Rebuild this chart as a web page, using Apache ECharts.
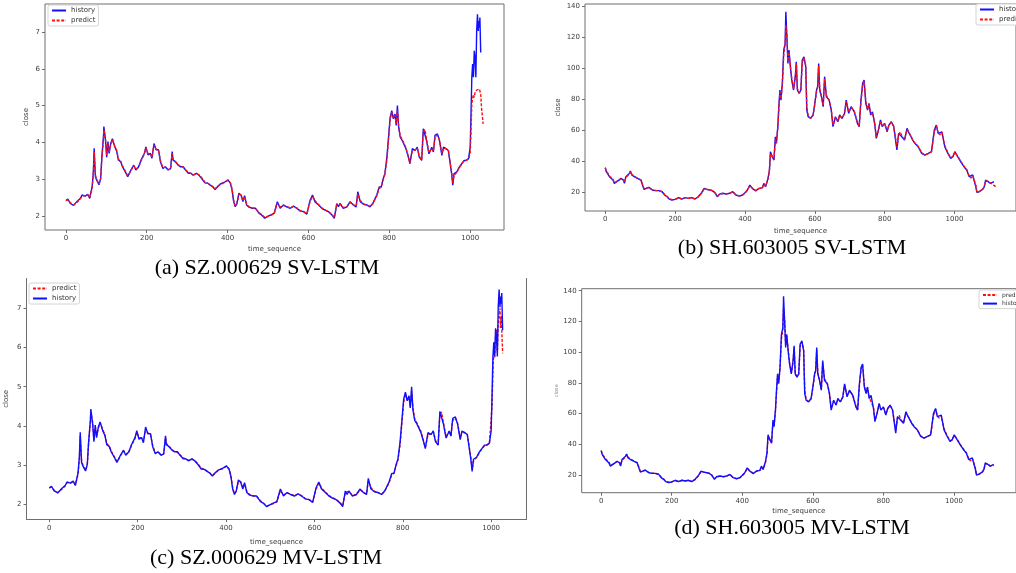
<!DOCTYPE html>
<html>
<head>
<meta charset="utf-8">
<script src="https://cdn.jsdelivr.net/npm/echarts@6/dist/echarts.min.js"></script>
<style>
  html, body { margin: 0; padding: 0; background: #fff; }
  #main { width: 1016px; height: 573px; }
</style>
</head>
<body>
<div id="main"></div>
<script>
// SZ.000629 time steps and closing prices (panels a, c)
const tA = [0,5,11,19,27,36,40,48,54,59,65,68,70,73,76,82,86,89,93,94,
  98,101,104,107,111,115,121,126,130,136,140,147,153,157,161,168,173,180,186,194,
  198,203,209,213,218,223,229,234,240,246,253,259,263,265,271,278,283,290,296,303,
  309,315,323,329,336,344,351,357,363,369,376,382,388,394,401,407,411,415,419,423,
  428,433,438,442,447,453,461,469,478,484,492,498,507,515,523,530,538,546,555,563,
  571,579,588,596,600,604,610,616,625,633,641,649,658,664,670,674,678,686,695,703,
  711,718,722,728,736,744,752,759,765,769,775,780,785,789,794,798,802,806,810,814,
  817,820,823,827,832,836,841,847,851,857,864,869,874,880,884,888,892,898,905,909,
  913,919,924,930,934,940,946,950,954,957,960,967,973,979,985,990,996,1000,1002,1004,
  1006,1008,1010,1012,1014,1016,1018,1020,1021,1023,1024,1026,1028,1032];
const histA = [2.42,2.46,2.34,2.29,2.39,2.48,2.57,2.54,2.59,2.48,2.8,3.2,3.84,3.07,2.98,2.85,3.02,3.6,4.15,4.43,
  4.06,3.6,4.02,3.7,3.97,4.1,3.88,3.75,3.52,3.47,3.34,3.2,3.07,3.16,3.25,3.38,3.25,3.34,3.52,3.7,
  3.88,3.66,3.7,3.57,3.97,3.8,3.8,3.47,3.29,3.34,3.25,3.29,3.75,3.52,3.47,3.38,3.34,3.34,3.25,3.16,
  3.16,3.11,3.16,3.11,3.02,2.9,2.89,2.84,2.8,2.72,2.81,2.87,2.9,2.93,2.98,2.89,2.71,2.39,2.25,2.34,
  2.62,2.57,2.39,2.55,2.3,2.24,2.21,2.21,2.07,2.03,1.94,1.98,2.03,2.07,2.39,2.21,2.3,2.25,2.21,2.27,
  2.21,2.14,2.12,2.05,2.07,2.43,2.57,2.39,2.3,2.21,2.16,2.12,2.03,1.94,2.34,2.25,2.34,2.21,2.25,2.39,
  2.3,2.25,2.66,2.39,2.32,2.3,2.25,2.34,2.48,2.57,2.79,2.79,3.02,3.15,3.6,4.14,4.68,4.86,4.64,4.77,
  4.46,5.0,4.41,4.14,4.05,4.1,3.83,3.6,3.42,3.83,3.78,3.87,3.6,3.51,4.37,4.37,4.05,3.69,3.87,3.74,
  4.19,4.23,4.05,3.65,3.87,3.83,3.78,3.74,3.15,2.84,3.15,3.2,3.33,3.42,3.51,3.51,3.56,3.87,4.77,5.77,
  6.13,5.77,6.49,6.3,5.77,7.03,7.48,7.03,7.3,7.12,7.39,6.44];
// SV-LSTM prediction (panel a)
const predA = [2.42,2.44,2.36,2.3,2.37,2.47,2.55,2.55,2.58,2.5,2.76,3.15,3.74,3.12,3.0,2.87,3.0,3.55,4.1,4.34,
  4.1,3.65,3.98,3.74,3.94,4.08,3.9,3.77,3.55,3.48,3.36,3.22,3.09,3.15,3.24,3.36,3.27,3.33,3.5,3.68,
  3.84,3.7,3.69,3.6,3.93,3.82,3.79,3.5,3.31,3.33,3.26,3.28,3.7,3.55,3.48,3.39,3.35,3.33,3.26,3.18,
  3.16,3.12,3.15,3.12,3.04,2.92,2.89,2.85,2.8,2.74,2.8,2.86,2.89,2.92,2.97,2.9,2.74,2.42,2.27,2.33,
  2.58,2.58,2.42,2.53,2.33,2.25,2.22,2.21,2.09,2.04,1.96,1.98,2.02,2.06,2.35,2.24,2.29,2.26,2.22,2.26,
  2.22,2.15,2.12,2.06,2.07,2.39,2.54,2.42,2.31,2.22,2.17,2.12,2.05,1.96,2.3,2.27,2.33,2.23,2.25,2.37,
  2.31,2.26,2.6,2.42,2.33,2.3,2.26,2.33,2.46,2.55,2.75,2.79,2.99,3.13,3.53,4.07,4.6,4.82,4.66,4.74,
  4.5,4.88,4.46,4.18,4.07,4.09,3.86,3.62,3.45,3.78,3.79,3.85,3.63,3.52,4.28,4.35,4.08,3.72,3.84,3.76,
  4.14,4.2,4.07,3.69,3.84,3.83,3.78,3.74,3.2,2.9,3.1,3.19,3.31,3.41,3.5,3.51,3.55,3.7,4.3,5.05,
  5.2,5.3,5.22,5.35,5.38,5.42,5.45,5.47,5.47,5.45,5.4,5.3,4.95,4.5];
// MV-LSTM prediction end section (panel c), from t = 1000
const predTailC = [3.6,4.5,5.4,5.9,5.75,6.3,6.45,5.9,6.6,6.85,7.0,6.5,6.8,6.45,5.85];

// SH.603005 time steps and closing prices (panels b, d)
const tB = [0,3,8,12,17,22,26,31,39,45,52,55,59,64,69,72,76,83,92,102,
  106,111,116,125,135,144,153,163,170,177,183,191,200,210,219,229,238,247,257,262,
  266,276,283,290,299,306,313,321,327,337,346,356,365,374,384,393,400,407,414,421,
  431,440,450,454,459,466,470,473,478,483,487,490,494,497,500,503,507,511,515,517,
  520,523,526,530,534,539,544,547,550,555,560,564,569,574,577,581,588,595,600,605,
  608,611,614,619,624,628,633,641,647,652,659,666,671,678,685,690,697,704,713,722,
  727,732,737,741,746,751,755,760,765,772,776,782,788,793,800,807,812,819,826,831,
  835,840,845,849,857,864,868,873,880,887,896,906,915,925,934,942,948,953,958,964,
  972,981,989,995,1001,1009,1018,1027,1035,1042,1047,1052,1056,1061,1064,1070,1080,1085,1089,1096,
  1103,1108,1113,1120];
const histB = [35.9,33.3,32.2,30.1,30.5,27.9,25.8,26.9,27.9,29,27.9,25.8,30.1,29,32.2,33.7,31.2,30.1,29,27.9,
  26.9,21.9,22.6,23.2,21.5,21.1,21.1,20.4,18.3,17.2,15.7,15.1,15.5,16.6,15.7,16.6,16.1,16.6,15.7,15.1,
  17.2,19.8,22.6,21.9,21.5,21.1,20,17.2,18.9,19.4,18.9,19.4,20.4,18.3,17.6,18.3,19.8,21.5,24.7,22.6,
  20.9,22.6,23,25.8,23.6,29,34.4,46.2,43,40.8,55.8,51.5,62.3,75.2,85.9,79.4,90.2,111.6,115.9,136.3,
  120.2,103,111.6,100.9,92.3,85.9,94.5,104.1,85.9,83.7,85.9,105.2,107.3,100.9,73,68.7,67.6,69.8,77.3,85.9,
  88,103,85.9,81.6,75.2,94.5,81.6,79.4,73,62.3,68.7,65.5,69.8,67.6,70.9,79.4,70.9,75.2,71.9,64.4,
  62.3,79.4,90.2,92.3,77.3,73,77.3,69.8,71.9,63.3,54.8,60.1,66.6,62.3,64.4,59,63.3,65.5,62.3,63.3,
  47.3,58,59,55.8,53.7,61.2,59,56.9,53.7,51.5,49.4,45.1,44,45.1,46.2,60.1,63.3,58,56.9,59,
  49.4,45.1,41.9,43,46.2,43,39.7,36.5,34.4,30.1,29,31.2,32.2,23.6,20,20.4,21.9,23.6,27.9,26.9,
  25.8,24.7,26.9];
// SV-LSTM prediction (panel b)
const predB = [35.9,33.8,32.6,30.6,30.3,28.4,26.3,26.6,27.7,28.8,28.1,26.4,29.6,29.2,31.8,33.4,31.6,30.4,29.2,28.1,
  27.1,22.5,22.5,23.1,21.7,21.2,21.1,20.5,18.6,17.4,16,15.3,15.5,16.4,15.9,16.5,16.2,16.5,15.9,15.3,
  17,19.5,22.3,22,21.6,21.2,20.2,17.6,18.7,19.3,19,19.3,20.3,18.5,17.7,18.2,19.6,21.3,24.3,22.8,
  21.2,22.4,23,25.4,23.9,28.4,33.6,44.8,43.4,41.2,54.2,52.1,61.2,73.8,84.6,80.2,89.1,108.8,115.2,128,
  121.4,104.6,110.4,101.6,93.1,86.5,93.6,103.2,87,84,85.7,103.8,106.6,101.6,75.4,69.3,67.8,69.5,76.6,85,
  87.6,101.4,86.8,82,75.9,93.2,82.6,79.6,73.7,63.4,68.2,65.8,69.4,67.8,70.7,78.6,71.6,74.8,72.2,65.1,
  62.6,78,89.2,91.8,78.6,73.5,76.9,70.4,71.7,63.9,55.8,59.6,66,62.7,64.2,59.5,63,65.2,62.6,63.2,
  48.9,57.1,58.9,56.1,53.9,60.5,59.2,57.1,54,51.7,49.6,45.5,44.1,45,46.1,58.7,62.9,58.5,57.1,58.8,
  50.2,45.5,42.3,42.9,45.9,43.3,40,36.9,34.7,30.6,29.2,31,32,24.5,20.4,20.4,21.7,23.4,27.4,27.1,
  26,24.9,24.5,23.3];
// MV-LSTM prediction end section (panel d), from t = 1103
const predTailD = [25.9,25.2,26.3];

const xTicks = [0, 200, 400, 600, 800, 1000];
const yTicksA = [2, 3, 4, 5, 6, 7];
const yTicksB = [20, 40, 60, 80, 100, 120, 140];

const cutC = tA.indexOf(1000);
const predC = predA.slice(0, cutC).concat(predTailC);
const cutD = tB.indexOf(1103);
const predD = predB.slice(0, cutD).concat(predTailD);

function pairs(ts, vs) {
  return vs.map((v, i) => [ts[i], v]);
}

const BLUE = '#1010ff';
const RED = '#ff1010';
const SPINE = '#6e6e6e';
const TXT = '#3c3c3c';
const FONT = 'DejaVu Sans';

// grid boxes and axis ranges of the four panels
const panels = [
  {left: 45, top: 4, width: 459, height: 226, x: [-51.6, 1083.6], y: [1.62, 7.76], yTicks: yTicksA, box: true, yGap: 15, xGap: 16},
  {left: 585, top: 4, width: 437, height: 207, x: [-58, 1176], y: [8, 141.3], yTicks: yTicksB, box: true, yGap: 23, xGap: 17},
  {left: 26.5, top: 278.5, width: 500, height: 240.7, x: [-51.6, 1080], y: [1.62, 7.76], yTicks: yTicksA, box: false, yGap: 16.5, xGap: 19},
  {left: 581.7, top: 288.7, width: 445.4, height: 204, x: [-55.3, 1176], y: [8.5, 141.3], yTicks: yTicksB, box: true, yGap: 21.7, xGap: 15}
];

const plain = v => String(v);

const grid = [], xAxis = [], yAxis = [];
panels.forEach((p, i) => {
  grid.push({
    left: p.left, top: p.top, width: p.width, height: p.height,
    show: p.box, borderColor: SPINE, borderWidth: 1, backgroundColor: 'transparent'
  });
  xAxis.push({
    gridIndex: i, type: 'value', min: p.x[0], max: p.x[1],
    axisLine: {show: !p.box, onZero: false, lineStyle: {color: SPINE, width: 1}},
    axisTick: {show: true, length: 3, customValues: xTicks, lineStyle: {color: SPINE}},
    axisLabel: {customValues: xTicks, formatter: plain, fontSize: 7, margin: 5, color: TXT, fontFamily: FONT},
    splitLine: {show: false},
    name: 'time_sequence', nameLocation: 'middle', nameGap: p.xGap,
    nameTextStyle: {fontSize: 7, color: TXT, fontFamily: FONT}
  });
  yAxis.push({
    gridIndex: i, type: 'value', min: p.y[0], max: p.y[1],
    axisLine: {show: !p.box, onZero: false, lineStyle: {color: SPINE, width: 1}},
    axisTick: {show: true, length: 3, customValues: p.yTicks, lineStyle: {color: SPINE}},
    axisLabel: {customValues: p.yTicks, formatter: plain, fontSize: 7, margin: 5, color: TXT, fontFamily: FONT},
    splitLine: {show: false},
    name: 'close', nameLocation: 'middle', nameGap: p.yGap,
    nameTextStyle: {fontSize: i === 3 ? 5 : 7, color: i === 3 ? '#888' : TXT, fontFamily: FONT}
  });
});
// right spine of panel (c)
yAxis.push({
  gridIndex: 2, type: 'value', position: 'right', min: panels[2].y[0], max: panels[2].y[1],
  axisLine: {show: true, onZero: false, lineStyle: {color: SPINE, width: 1}},
  axisTick: {show: false}, axisLabel: {show: false}, splitLine: {show: false}
});

function lineSeries(name, idx, data, dashed) {
  return {
    name: name, type: 'line', xAxisIndex: idx, yAxisIndex: idx,
    data: data, symbol: 'none', showSymbol: false, smooth: false,
    lineStyle: {color: dashed ? RED : BLUE, width: 1.4, type: dashed ? [3, 1.6] : 'solid'},
    itemStyle: {color: dashed ? RED : BLUE},
    animation: false
  };
}

const series = [
  lineSeries('history', 0, pairs(tA, histA), false),
  lineSeries('predict', 0, pairs(tA, predA), true),
  lineSeries('history', 1, pairs(tB, histB), false),
  lineSeries('predict', 1, pairs(tB, predB), true),
  lineSeries('predict', 2, pairs(tA, predC), true),
  lineSeries('history', 2, pairs(tA, histA), false),
  lineSeries('predict', 3, pairs(tB, predD), true),
  lineSeries('history', 3, pairs(tB, histB), false)
];

function legendBox(left, top, names, size, gap) {
  return {
    left: left, top: top, orient: 'vertical', data: names,
    itemWidth: 14, itemHeight: size, itemGap: gap, padding: [2, 3],
    backgroundColor: '#fff', borderColor: '#d4d4d4', borderWidth: 1, borderRadius: 2,
    selectedMode: false,
    itemStyle: {opacity: 0},
    textStyle: {fontSize: size, color: '#333', fontFamily: FONT}
  };
}

const captionFont = '22px "Liberation Serif"';
function caption(text, x, y) {
  return {
    type: 'text', x: x, y: y, z: 10,
    style: {text: text, font: captionFont, fill: '#000', textAlign: 'center', textVerticalAlign: 'middle'}
  };
}

const chart = echarts.init(document.getElementById('main'), null, {renderer: 'canvas'});
chart.setOption({
  backgroundColor: '#fff',
  animation: false,
  grid: grid,
  xAxis: xAxis,
  yAxis: yAxis,
  legend: [
    legendBox(48, 5, ['history', 'predict'], 7, 3),
    legendBox(976, 4, ['history', 'predict'], 7, 3),
    legendBox(29, 283, ['predict', 'history'], 7, 3),
    legendBox(979, 290, ['predict', 'history'], 6, 2.6)
  ],
  series: series,
  graphic: [
    caption('(a) SZ.000629 SV-LSTM', 267, 268),
    caption('(b) SH.603005 SV-LSTM', 792, 248),
    caption('(c) SZ.000629 MV-LSTM', 266, 558),
    caption('(d) SH.603005 MV-LSTM', 792, 528)
  ]
});
</script>
</body>
</html>
